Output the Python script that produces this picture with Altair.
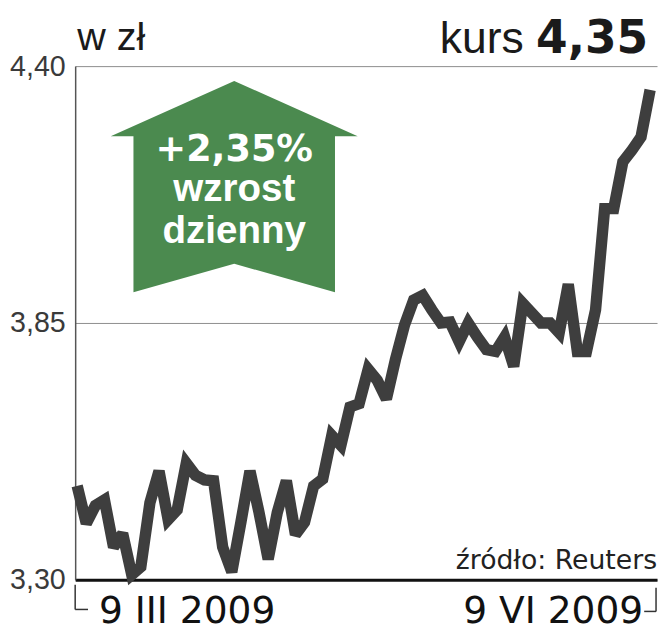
import altair as alt
import pandas as pd

# ---- data ----
values = [3.501, 3.421, 3.459, 3.471, 3.370, 3.399, 3.311, 3.328, 3.465, 3.533,
          3.429, 3.450, 3.550, 3.524, 3.514, 3.512, 3.370, 3.317, 3.423, 3.533,
          3.444, 3.344, 3.444, 3.512, 3.397, 3.423, 3.501, 3.516, 3.609, 3.588,
          3.670, 3.677, 3.751, 3.727, 3.687, 3.772, 3.846, 3.899, 3.909, 3.878,
          3.850, 3.852, 3.810, 3.850, 3.820, 3.793, 3.789, 3.820, 3.757, 3.892,
          3.871, 3.850, 3.850, 3.829, 3.933, 3.789, 3.789, 3.878, 4.095, 4.095,
          4.195, 4.220, 4.248, 4.349]
days = list(range(len(values)))
y_ticks = [3.30, 3.85, 4.40]
x_label_texts = ["9 III 2009", "9 VI 2009"]
x_label_days = [0, len(values) - 1]
change_pct = 2.35
unit_text = "w zł"
kurs_text = "kurs"
last_text = f"{values[-1]:.2f}".replace(".", ",")
arrow_lines = [f"+{change_pct:.2f}%".replace(".", ","), "wzrost", "dzienny"]
source_text = "źródło: Reuters"

df = pd.DataFrame({"i": days, "v": values})
one = pd.DataFrame({"a": [0]})
lab_left = pd.DataFrame({"i": [x_label_days[0]], "t": [x_label_texts[0]]})
lab_right = pd.DataFrame({"i": [x_label_days[1]], "t": [x_label_texts[1]]})

W, H = 589, 520
x_scale = alt.Scale(domain=[-0.22, 63.76], nice=False, zero=False)
y_scale = alt.Scale(domain=[3.30, 4.40], nice=False, zero=False)

GREEN = "#4b8a4f"
DARK = "#3e3e3e"

line = alt.Chart(df).mark_line(
    color=DARK, strokeWidth=11.5, strokeJoin="miter", strokeMiterLimit=2.5
).encode(
    x=alt.X("i:Q", scale=x_scale,
            axis=alt.Axis(domain=True, domainColor="#111111", domainWidth=3,
                          labels=False, ticks=False, grid=False, title=None)),
    y=alt.Y("v:Q", scale=y_scale,
            axis=alt.Axis(values=y_ticks, grid=True, gridColor="#8c8c8c", gridWidth=1,
                          domainColor="#555555", domainWidth=1.5, ticks=False,
                          labelFontSize=29, labelFont="Liberation Sans",
                          labelColor="#3a3a3a", labelPadding=10,
                          labelExpr="replace(format(datum.value, '.2f'), '.', ',')",
                          title=None)),
)

arrow_path = ("M0,-0.856 L1,-0.408 L0.816,-0.408 L0.816,0.856 L0,0.624 "
              "L-0.816,0.856 L-0.816,-0.408 L-1,-0.408 Z")
arrow = alt.Chart(one).mark_point(
    shape=arrow_path, size=62500, filled=True, fill=GREEN, opacity=1, strokeWidth=0
).encode(x=alt.value(161), y=alt.value(122))

def txt(text, x, y, size, font, weight="normal", align="left", color="#1a1a1a"):
    return alt.Chart(one).mark_text(
        text=text, align=align, baseline="alphabetic", fontSize=size,
        font=font, fontWeight=weight, color=color
    ).encode(x=alt.value(x), y=alt.value(y))

t_arrow1 = txt(arrow_lines[0], 161, 96, 37, "DejaVu Sans", "bold", "center", "white")
t_arrow2 = txt(arrow_lines[1], 161, 137, 39, "Liberation Sans", "bold", "center", "white")
t_arrow3 = txt(arrow_lines[2], 161, 179, 39, "Liberation Sans", "bold", "center", "white")

t_unit = txt(unit_text, 2, -16, 40, "Liberation Sans")
t_kurs = txt(kurs_text, 454, -13, 45, "Liberation Sans", align="right")
t_last = txt(last_text, 580, -13, 46, "DejaVu Sans", "bold", "right")
t_src = txt(source_text, 589, 509, 27, "DejaVu Sans", align="right", color="#222222")

xl_left = alt.Chart(lab_left).mark_text(
    align="left", baseline="alphabetic", fontSize=38, font="DejaVu Sans",
    color="#111111", dx=22
).encode(x=alt.X("i:Q", scale=x_scale), y=alt.value(564), text="t:N")
xl_right = alt.Chart(lab_right).mark_text(
    align="right", baseline="alphabetic", fontSize=38, font="DejaVu Sans",
    color="#111111", dx=-7
).encode(x=alt.X("i:Q", scale=x_scale), y=alt.value(564), text="t:N")

BR = "#333333"
br1 = alt.Chart(one).mark_rule(color=BR, strokeWidth=1.5).encode(
    x=alt.value(0), y=alt.value(525), y2=alt.value(550))
br2 = alt.Chart(one).mark_rule(color=BR, strokeWidth=1.5).encode(
    x=alt.value(0), x2=alt.value(13), y=alt.value(550))
br3 = alt.Chart(one).mark_rule(color=BR, strokeWidth=1.5).encode(
    x=alt.value(588), y=alt.value(528), y2=alt.value(552))
br4 = alt.Chart(one).mark_rule(color=BR, strokeWidth=1.5).encode(
    x=alt.value(576), x2=alt.value(588), y=alt.value(552))

chart = alt.layer(
    line, arrow, t_arrow1, t_arrow2, t_arrow3, t_unit, t_kurs, t_last, t_src,
    xl_left, xl_right, br1, br2, br3, br4
).properties(
    width=W, height=H,
    padding={"left": 68, "top": 55, "right": 2, "bottom": 50},
    autosize=alt.AutoSizeParams(type="none"),
    background="white",
).configure_view(stroke=None)

chart.save("out.html", embed_options={"renderer": "svg", "actions": False})
